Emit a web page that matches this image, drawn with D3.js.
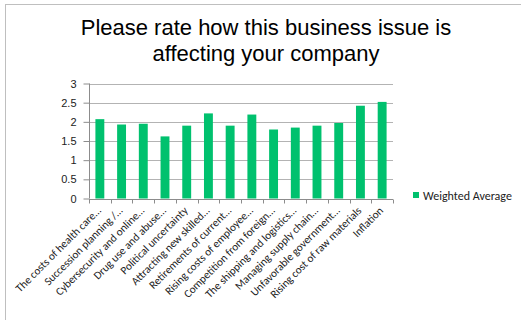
<!DOCTYPE html>
<html><head><meta charset="utf-8">
<script src="https://cdn.jsdelivr.net/npm/d3@7"></script>
<style>body{margin:0;background:#fff}svg{display:block}</style>
</head><body>
<script>
const categories = ["The costs of health care\u2026","Succession planning /\u2026","Cybersecurity and online\u2026","Drug use and abuse\u2026","Political uncertainty","Attracting new skilled\u2026","Retirements of current\u2026","Rising costs of employee\u2026","Competition from foreign\u2026","The shipping and logistics\u2026","Managing supply chain\u2026","Unfavorable government\u2026","Rising cost of raw materials","Inflation"];
const values = [2.07,1.93,1.95,1.62,1.9,2.22,1.9,2.19,1.8,1.85,1.9,1.97,2.42,2.52];
const yTicks = [0,0.5,1,1.5,2,2.5,3];
const yTickLabels = ["0","0.5","1","1.5","2","2.5","3"];
const seriesName = "Weighted Average";
const titleLines = ["Please rate how this business issue is","affecting your company"];

(function(){
const W=521,H=320;
const svg=d3.select("body").append("svg").attr("width",W).attr("height",H);
svg.append("rect").attr("x",5.5).attr("y",4.5).attr("width",W+10).attr("height",H+10)
  .attr("fill","#fff").attr("stroke","#bfbfbf").attr("stroke-width",1);

const pL=89,pR=393,pT=83.5,pB=198.5;
const x=d3.scaleBand().domain(categories).range([pL,pR]).paddingInner(0.59).paddingOuter(0.295);
const y=d3.scaleLinear().domain([0,3]).range([pB,pT]);

svg.append("g").selectAll("line").data(yTicks.filter(d=>d>0)).join("line")
  .attr("x1",pL).attr("x2",pR).attr("y1",d=>Math.round(y(d))+0.5).attr("y2",d=>Math.round(y(d))+0.5)
  .attr("stroke","#b3b3b3").attr("stroke-width",1);

svg.append("g").selectAll("rect").data(values).join("rect")
  .attr("x",(d,i)=>x(categories[i])).attr("width",x.bandwidth())
  .attr("y",d=>y(d)).attr("height",d=>y(0)-y(d))
  .attr("fill","#00c16e");

const ya=svg.append("g").attr("transform",`translate(${pL+0.5},0)`)
  .call(d3.axisLeft(y).tickValues(yTicks).tickFormat((d,i)=>yTickLabels[i]).tickSize(6).tickPadding(7));
ya.select(".domain").attr("stroke","#8c8c8c").attr("d",`M0,${pT}V${pB}`);
ya.selectAll(".tick line").attr("stroke","#8c8c8c");
ya.selectAll("text").attr("font-family","'Liberation Sans',Arial,sans-serif").attr("font-size",11).attr("fill","#222");

const xEdges=d3.scaleLinear().domain([0,categories.length]).range([pL,pR]);
const xa=svg.append("g").attr("transform",`translate(0,${Math.round(pB)+0.5})`);
xa.append("line").attr("x1",pL).attr("x2",pR).attr("stroke","#8c8c8c");
xa.selectAll("line.t").data(d3.range(categories.length+1)).join("line").attr("class","t")
  .attr("x1",d=>Math.round(xEdges(d))+0.5).attr("x2",d=>Math.round(xEdges(d))+0.5).attr("y1",0).attr("y2",4).attr("stroke","#8c8c8c");
xa.selectAll("text").data(categories).join("text")
  .attr("transform",d=>`translate(${x(d)+x.bandwidth()/2-1},9) rotate(-45)`)
  .attr("text-anchor","end").attr("dy","0.35em")
  .attr("font-family","'Carlito','Calibri','Open Sans',sans-serif").attr("font-size",11.2).attr("fill","#222")
  .text(d=>d);

svg.append("g").selectAll("text").data(titleLines).join("text")
  .attr("x",266).attr("y",(d,i)=>35+i*26).attr("text-anchor","middle")
  .attr("font-family","'Liberation Sans',Arial,sans-serif").attr("font-size",22).attr("fill","#000")
  .text(d=>d);

const lg=svg.append("g").attr("transform","translate(413,192)");
lg.append("rect").attr("width",6).attr("height",6).attr("fill","#00c16e");
lg.append("text").attr("x",10).attr("y",7.5).attr("font-family","'Carlito','Calibri','Open Sans',sans-serif")
  .attr("font-size",12).attr("fill","#222").text(seriesName);
})();
</script>
</body></html>
